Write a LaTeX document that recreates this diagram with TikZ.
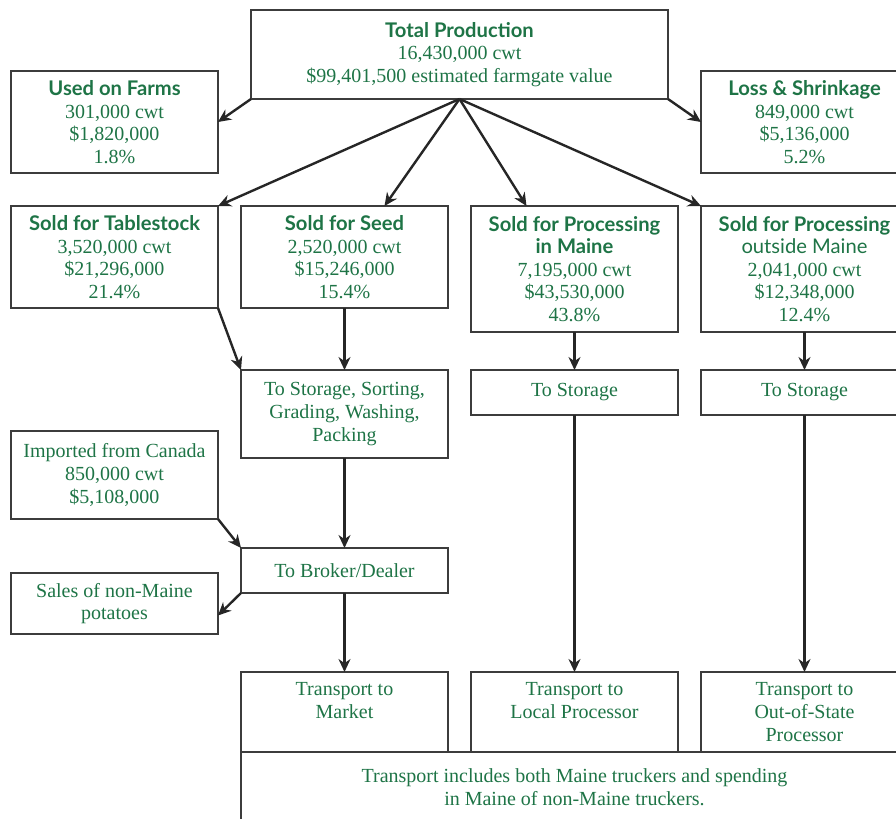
\documentclass[tikz,border=0pt]{standalone}
\usepackage{fontspec}
\setmainfont{Liberation Serif}
\newfontfamily\headfont{Lato}
\usetikzlibrary{arrows.meta,calc,positioning}
\definecolor{potatogreen}{HTML}{1E7446}
\definecolor{framegray}{HTML}{3C3C3C}
\definecolor{flowblack}{HTML}{262626}
\newcommand{\hdline}[1]{{\headfont\bfseries\fontsize{10.1}{11.3}\selectfont #1}}
\newcommand{\subline}[1]{{\headfont\fontsize{10.1}{11.3}\selectfont #1}}
\tikzset{
  font=\fontsize{10}{11.3}\selectfont,
  block/.style={
    draw=framegray,
    line width=.75pt,
    text=potatogreen,
    align=center,
    inner sep=2pt,
    outer sep=0pt,
    minimum width=103.5pt
  },
  statblock/.style={block, minimum height=51pt},
  procblock/.style={block, minimum height=63pt},
  stepblock/.style={block, minimum height=22.5pt},
  transblock/.style={block, minimum height=40pt},
  arrow/.style={-{Stealth[length=6.5pt,width=6pt]}, line width=1.2pt, draw=flowblack}
}

\begin{document}
\begin{tikzpicture}[node distance=11.5pt]
  \useasboundingbox (0,0) rectangle (448pt,-409.5pt);

  \node[statblock] (table) at (57.25pt,-128.5pt)
    {\hdline{Sold for Tablestock}\\3,520,000 cwt\\\$21,296,000\\21.4\%};
  \node[statblock, right=of table] (seed)
    {\hdline{Sold for Seed}\\2,520,000 cwt\\\$15,246,000\\15.4\%};
  \node[procblock, right=of seed.north east, anchor=north west] (procin)
    {\hdline{Sold for Processing}\\\hdline{in Maine}\\7,195,000 cwt\\\$43,530,000\\43.8\%};
  \node[procblock, right=of procin] (procout)
    {\hdline{Sold for Processing}\\\subline{outside Maine}\\2,041,000 cwt\\\$12,348,000\\12.4\%};

  \node[statblock, above=16.5pt of table] (farms)
    {\hdline{Used on Farms}\\301,000 cwt\\\$1,820,000\\1.8\%};
  \node[statblock, above=16.5pt of procout] (loss)
    {\hdline{Loss \& Shrinkage}\\849,000 cwt\\\$5,136,000\\5.2\%};
  \coordinate (hubbase) at ($(seed.north)!.5!(procin.north)$);
  \node[block, minimum width=208.5pt, minimum height=44.5pt,
        above=53.5pt of hubbase] (total)
    {\hdline{Total Production}\\16,430,000 cwt\\\$99,401,500 estimated farmgate value};

  \node[block, minimum height=44pt, below=31pt of seed] (sorting)
    {To Storage, Sorting,\\Grading, Washing,\\Packing};
  \node[stepblock, below=19pt of procin] (storein) {To Storage};
  \node[stepblock, below=19pt of procout] (storeout) {To Storage};
  \node[block, minimum height=44pt, below=61.5pt of table] (canada)
    {Imported from Canada\\850,000 cwt\\\$5,108,000};
  \node[stepblock, below=45pt of sorting] (broker) {To Broker/Dealer};
  \node[block, minimum height=30.5pt, below=27pt of canada] (sales)
    {Sales of non-Maine\\potatoes};

  \node[transblock, below=39.5pt of broker] (market) {Transport to\\Market\\~};
  \node[transblock, below=128.5pt of storein] (local)
    {Transport to\\Local Processor\\~};
  \node[transblock, below=128.5pt of storeout] (outstate)
    {Transport to\\Out-of-State\\Processor};
  \node[block, minimum width=333.5pt, minimum height=35pt,
        below=0pt of market.south west, anchor=north west] (truckers)
    {Transport includes both Maine truckers and spending\\in Maine of non-Maine truckers.};

  \draw[arrow] (total.south west) -- (farms.east);
  \draw[arrow] (total.south east) -- (loss.west);
  \draw[arrow] (total.south) -- (table.north east);
  \draw[arrow] (total.south) -- ([xshift=20pt]seed.north);
  \draw[arrow] (total.south) -- ([xshift=-24pt]procin.north);
  \draw[arrow] (total.south) -- (procout.north west);

  \draw[arrow] (table.south east) -- (sorting.north west);
  \draw[arrow] (seed) -- (sorting);
  \draw[arrow] (procin) -- (storein);
  \draw[arrow] (procout) -- (storeout);
  \draw[arrow] (sorting) -- (broker);
  \draw[arrow] (canada.south east) -- (broker.north west);
  \draw[arrow] (broker.south west) -- ([yshift=-6pt]sales.east);
  \draw[arrow] (broker) -- (market);
  \draw[arrow] (storein) -- (local);
  \draw[arrow] (storeout) -- (outstate);
\end{tikzpicture}
\end{document}
